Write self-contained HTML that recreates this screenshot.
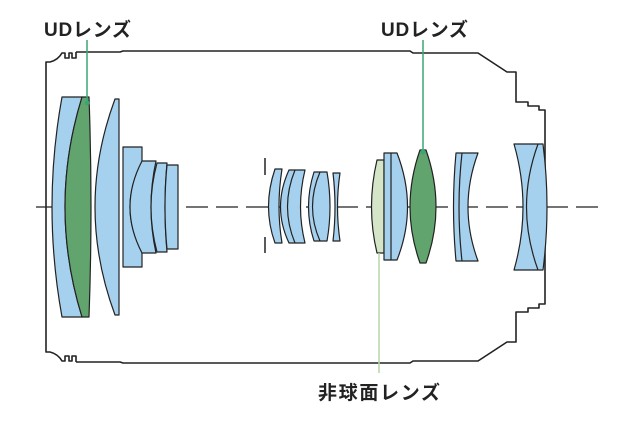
<!DOCTYPE html>
<html><head><meta charset="utf-8"><style>
html,body{margin:0;padding:0;background:#fff;width:640px;height:427px;overflow:hidden}
svg{display:block}
</style></head><body>
<svg width="640" height="427" viewBox="0 0 640 427" xmlns="http://www.w3.org/2000/svg">
<g fill="none" stroke="#222" stroke-width="1.6" stroke-linejoin="round">
<path d="M76,52 H120 L123,51 H410 L413,53 H478 L507,72 H516 V102 H528 V106 H539 V110 H545 V304 H539 V308 H528 V312 H516 V342 H507 L478,361 H413 L410,363 H123 L120,362 H76"/>
<path d="M76,52 V58 H72 V53 H69 V58 H65 V53 H62 Q58,60 50,62 H46 V352 H50 Q58,354 62,361 H65 V356 H69 V361 H72 V356 H76 V362"/>
</g>
<line x1="36" y1="207" x2="605" y2="207" stroke="#222" stroke-width="1.3" stroke-dasharray="22,8"/>
<g stroke="#222" stroke-width="1.2" stroke-linejoin="round">
<!-- front group -->
<path d="M62,97 H82 Q48,207 82,317 H62 Q42,207 62,97 Z" fill="#a6d1ee"/>
<path d="M82,97 H89 Q93,207 89,317 H82 Q48,207 82,97 Z" fill="#62a46e"/>
<path d="M115,99 H119 V315 H115 Q75,207 115,99 Z" fill="#a6d1ee"/>
<path d="M123,147 H142 V162 Q118,207 142,252 V267 H123 Z" fill="#a6d1ee"/>
<path d="M142,161 H156 Q146,207 156,253 H142 Q118,207 142,161 Z" fill="#a6d1ee"/>
<path d="M157,163 H167 Q163,207 167,252 H157 Q145,207 157,163 Z" fill="#a6d1ee"/>
<path d="M167,165 H178 V249 H167 Q163,207 167,165 Z" fill="#a6d1ee"/>
<!-- middle group -->
<path d="M275,169 H282 Q276,207 282,243 H275 Q262,207 275,169 Z" fill="#a6d1ee"/>
<path d="M289,170 H305 Q296,207 305,243 H289 Q272,207 289,170 Z" fill="#a6d1ee"/>
<path d="M295,170 Q280,207 295,243" fill="none"/>
<path d="M314,172 H327 Q333,207 327,241 H314 Q303,207 314,172 Z" fill="#a6d1ee"/>
<path d="M320,172 Q305,207 320,241" fill="none"/>
<path d="M333,173 H340 Q335,207 340,241 H333 Q337,207 333,173 Z" fill="#a6d1ee"/>
<path d="M377,160 H384 V253 H377 Q366,207 377,160 Z" fill="#d4e5c8"/>
<path d="M384,153 H397 Q418,207 397,260 H384 Z" fill="#a6d1ee"/>
<path d="M391,153 V260" fill="none"/>
<path d="M420,150 H426 Q446,207 426,263 H420 Q400,207 420,150 Z" fill="#62a46e"/>
<path d="M456,153 H478 Q458,207 478,261 H456 Q451,207 456,153 Z" fill="#a6d1ee"/>
<path d="M462,153 Q456,207 462,261" fill="none"/>
<path d="M514,144 H543 Q551,207 543,270 H514 Q532,207 514,144 Z" fill="#a6d1ee"/>
<path d="M538,144 Q515,207 538,270" fill="none"/>
</g>
<g stroke="#222" stroke-width="1.5">
<line x1="265" y1="158" x2="265" y2="175"/><line x1="265" y1="237" x2="265" y2="253"/>
</g>
<g stroke="#3aa676" stroke-width="1.5">
<line x1="87" y1="40" x2="87" y2="103"/><line x1="423" y1="40" x2="423" y2="152"/>
</g>
<circle cx="87" cy="103" r="2.5" fill="#3aa676"/><circle cx="423" cy="152" r="2.5" fill="#3aa676"/>
<line x1="379" y1="253" x2="379" y2="373" stroke="#b5d6a8" stroke-width="1.5"/>
<g font-family="Liberation Sans, Noto Sans CJK JP, sans-serif" font-weight="bold" font-size="19" fill="#222">
<text x="44" y="36" textLength="87">UDレンズ</text>
<text x="381" y="36" textLength="87">UDレンズ</text>
<text x="318" y="399" textLength="122">非球面レンズ</text>
</g>
</svg>
</body></html>
